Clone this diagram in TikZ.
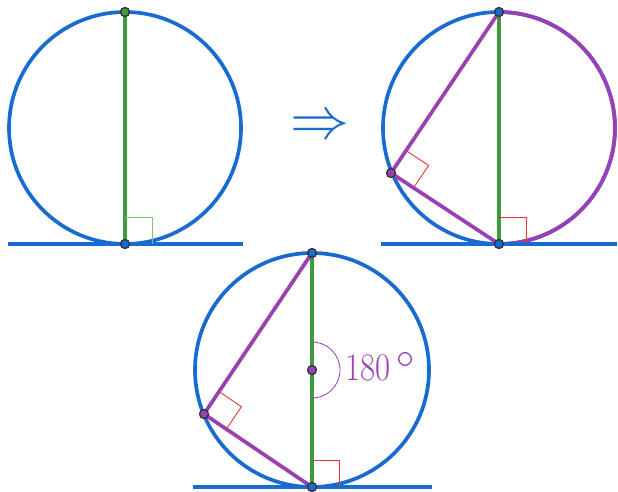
\documentclass[tikz,border=0pt]{standalone}
\usetikzlibrary{calc}
\definecolor{cblue}{HTML}{1A6BD0}
\definecolor{cgreen}{HTML}{3E9B3E}
\definecolor{clgreen}{HTML}{7CC47C}
\definecolor{cpurple}{HTML}{9B3FB5}
\definecolor{cred}{HTML}{E8333A}
\definecolor{cpt}{HTML}{333333}
\begin{document}
\begin{tikzpicture}[x=1pt,y=-1pt,
 circ/.style={cblue, line width=3.7pt},
 tang/.style={cblue, line width=3.7pt},
 diam/.style={cgreen, line width=3.2pt},
 chord/.style={cpurple, line width=3.7pt},
 ramark/.style={line width=0.9pt},
 pt/.style={circle, draw=cpt, line width=1.3pt, inner sep=0pt, minimum size=9pt}]
\useasboundingbox (0,0) rectangle (618,491);
% ---------- figure 1
\coordinate (C1) at (125,128);
\coordinate (T1) at (125,12);
\coordinate (B1) at (125,244);
\coordinate (E1a) at (8,244);
\coordinate (E1b) at (243,244);
\draw[circ] (C1) circle[radius=116];
\draw[tang] (E1a) -- (E1b);
\draw[diam] (T1) -- (B1);
\draw[ramark, clgreen] ($(B1)+(0,-27)$) -- ($(B1)+(27,-27)$) -- ($(B1)+(27,0)$);
\node[pt, fill=cgreen] (p1t) at (T1) {};
\node[pt, fill=cblue] (p1b) at (B1) {};
% ---------- arrow
\node[cblue, inner sep=0pt] (arr) at (320,128) {\scalebox{5.9}{$\Rightarrow$}};
% ---------- figure 2
\coordinate (C2) at (499,128);
\coordinate (T2) at (499,12);
\coordinate (B2) at (499,244);
\coordinate (L2) at (391,173);
\coordinate (E2a) at (381,244);
\coordinate (E2b) at (617,244);
\draw[circ] (C2) circle[radius=116];
\draw[chord] (T2) arc[start angle=-90, end angle=90, radius=116];
\draw[tang] (E2a) -- (E2b);
\draw[diam] (T2) -- (B2);
\draw[chord] (T2) -- (L2) -- (B2);
\draw[ramark, cred] ($(B2)+(0,-27)$) -- ($(B2)+(27,-27)$) -- ($(B2)+(27,0)$);
\coordinate (L2u) at ($(L2)!27pt!(T2)$);
\coordinate (L2d) at ($(L2)!27pt!(B2)$);
\draw[ramark, cred] (L2u) -- ($(L2u)+(L2d)-(L2)$) -- (L2d);
\node[pt, fill=cblue] (p2t) at (T2) {};
\node[pt, fill=cblue] (p2b) at (B2) {};
\node[pt, fill=cpurple] (p2l) at (L2) {};
% ---------- figure 3
\coordinate (C3) at (312,370);
\coordinate (T3) at (312,253);
\coordinate (B3) at (312,487);
\coordinate (L3) at (204,414);
\coordinate (E3a) at (193,487);
\coordinate (E3b) at (432,487);
\draw[circ] (C3) circle[radius=117];
\draw[tang] (E3a) -- (E3b);
\draw[diam] (T3) -- (B3);
\draw[chord] (T3) -- (L3) -- (B3);
\draw[ramark, cred] ($(B3)+(0,-27)$) -- ($(B3)+(27,-27)$) -- ($(B3)+(27,0)$);
\coordinate (L3u) at ($(L3)!27pt!(T3)$);
\coordinate (L3d) at ($(L3)!27pt!(B3)$);
\draw[ramark, cred] (L3u) -- ($(L3u)+(L3d)-(L3)$) -- (L3d);
\draw[cpurple, line width=0.8pt] ($(C3)+(0,-28)$) arc[start angle=-90, end angle=90, radius=28];
\node[cpurple, anchor=base west, inner sep=0pt, font=\fontsize{39}{39}\selectfont] (lab) at (345,380) {\scalebox{0.84}[1]{180}\hspace{6pt}\raisebox{12pt}{\scalebox{1.45}{$\circ$}}};
\node[pt, fill=cblue] (p3t) at (T3) {};
\node[pt, fill=cblue] (p3b) at (B3) {};
\node[pt, fill=cpurple] (p3l) at (L3) {};
\node[pt, fill=cpurple] (p3c) at (C3) {};
\end{tikzpicture}
\end{document}
